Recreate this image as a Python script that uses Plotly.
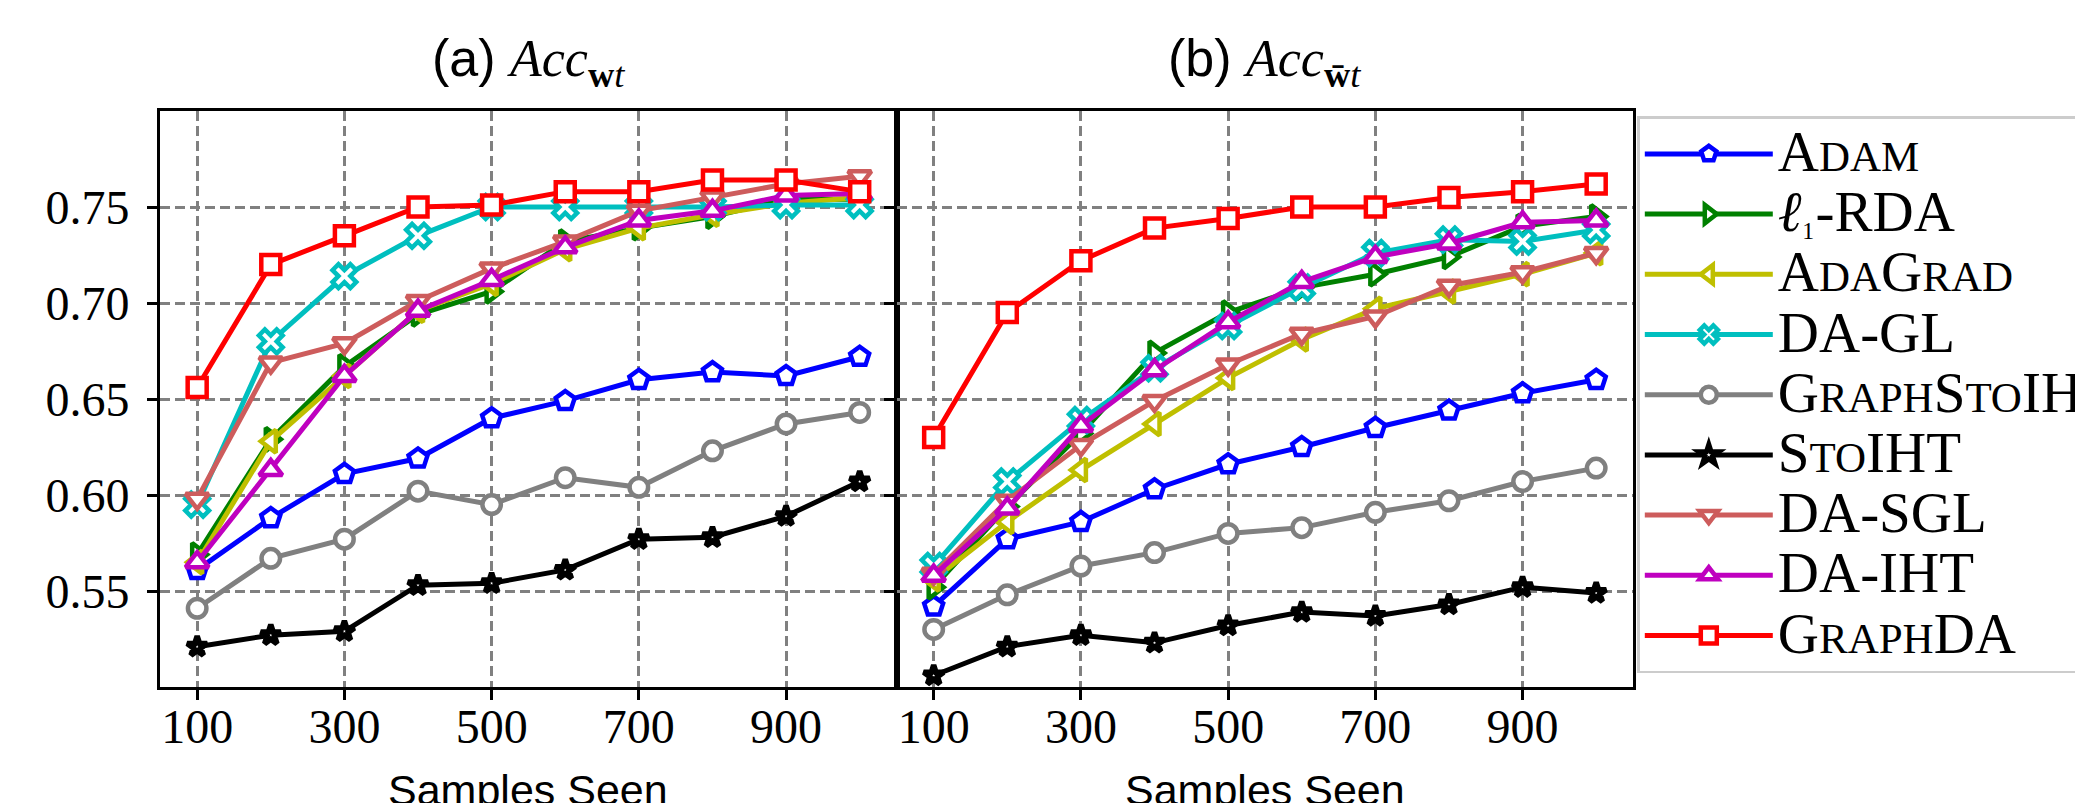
import plotly.graph_objects as go

# ---------------- data ----------------
samples = [100, 200, 300, 400, 500, 600, 700, 800, 900, 1000]
x_ticks = [100, 300, 500, 700, 900]
y_ticks = [0.55, 0.60, 0.65, 0.70, 0.75]
y_tick_text = ["0.55", "0.60", "0.65", "0.70", "0.75"]

# panel (a) Acc_{w_t}
adam_a        = [0.561, 0.588, 0.611, 0.619, 0.640, 0.649, 0.660, 0.664, 0.662, 0.672]
l1rda_a       = [0.569, 0.629, 0.667, 0.694, 0.706, 0.732, 0.739, 0.745, 0.754, 0.754]
adagrad_a     = [0.565, 0.628, 0.662, 0.696, 0.710, 0.728, 0.739, 0.746, 0.752, 0.755]
dagl_a        = [0.595, 0.680, 0.714, 0.735, 0.750, 0.750, 0.750, 0.750, 0.751, 0.751]
graphstoiht_a = [0.541, 0.567, 0.577, 0.602, 0.595, 0.609, 0.604, 0.623, 0.637, 0.643]
stoiht_a      = [0.521, 0.527, 0.529, 0.553, 0.554, 0.561, 0.577, 0.578, 0.589, 0.607]
dasgl_a       = [0.598, 0.669, 0.679, 0.701, 0.718, 0.732, 0.748, 0.755, 0.762, 0.766]
daiht_a       = [0.565, 0.613, 0.662, 0.696, 0.712, 0.729, 0.743, 0.748, 0.756, 0.757]
graphda_a     = [0.656, 0.720, 0.735, 0.750, 0.751, 0.758, 0.758, 0.764, 0.764, 0.758]

# panel (b) Acc_{w̄_t}
adam_b        = [0.542, 0.577, 0.586, 0.603, 0.616, 0.625, 0.635, 0.644, 0.653, 0.660]
l1rda_b       = [0.552, 0.594, 0.632, 0.674, 0.695, 0.708, 0.715, 0.724, 0.740, 0.745]
adagrad_b     = [0.556, 0.586, 0.613, 0.637, 0.661, 0.681, 0.697, 0.706, 0.715, 0.726]
dagl_b        = [0.563, 0.607, 0.639, 0.666, 0.688, 0.708, 0.726, 0.733, 0.732, 0.738]
graphstoiht_b = [0.530, 0.548, 0.563, 0.570, 0.580, 0.583, 0.591, 0.597, 0.607, 0.614]
stoiht_b      = [0.506, 0.521, 0.527, 0.523, 0.532, 0.539, 0.537, 0.543, 0.552, 0.549]
dasgl_b       = [0.559, 0.597, 0.626, 0.649, 0.668, 0.684, 0.693, 0.709, 0.716, 0.726]
daiht_b       = [0.558, 0.593, 0.636, 0.665, 0.690, 0.711, 0.724, 0.731, 0.742, 0.743]
graphda_b     = [0.630, 0.695, 0.722, 0.739, 0.744, 0.750, 0.750, 0.755, 0.758, 0.762]

BIG = "font-size:57px"
SMALL = "font-size:43px"
def b(s):
    return f'<span style="{BIG}">{s}</span>'
def s(t):
    return f'<span style="{SMALL}">{t}</span>'

legend_labels = [
    b("A") + s("DAM"),
    b("<i>ℓ</i>") + '<span style="font-size:40px">₁</span>' + b("-RDA"),
    b("A") + s("DA") + b("G") + s("RAD"),
    b("DA-GL"),
    b("G") + s("RAPH") + b("S") + s("TO") + b("IHT"),
    b("S") + s("TO") + b("IHT"),
    b("DA-SGL"),
    b("DA-IHT"),
    b("G") + s("RAPH") + b("DA"),
]
colors = ["#0000ff", "#008000", "#bfbf00", "#00bfbf", "#808080",
          "#000000", "#cd5c5c", "#bf00bf", "#ff0000"]
symbols = ["pentagon", "triangle-right", "triangle-left", "x", "circle",
           "star", "triangle-down", "triangle-up", "square"]
sizes = [20, 20, 20, 21, 18.5, 15, 20, 20, 19]
edge_w = [4.5, 4.5, 4.5, 4.5, 4.5, 5.5, 4.5, 4.5, 4.5]

panel_a = [adam_a, l1rda_a, adagrad_a, dagl_a, graphstoiht_a, stoiht_a, dasgl_a, daiht_a, graphda_a]
panel_b = [adam_b, l1rda_b, adagrad_b, dagl_b, graphstoiht_b, stoiht_b, dasgl_b, daiht_b, graphda_b]

fig = go.Figure()
for pi, (panel, xa, ya) in enumerate([(panel_a, "x", "y"), (panel_b, "x2", "y2")]):
    for i, vals in enumerate(panel):
        fig.add_trace(go.Scatter(
            x=samples, y=vals, xaxis=xa, yaxis=ya,
            mode="lines+markers",
            name=legend_labels[i],
            showlegend=(pi == 0),
            line=dict(color=colors[i], width=5),
            marker=dict(symbol=symbols[i], size=sizes[i], color="white",
                        line=dict(color=colors[i], width=edge_w[i])),
        ))

W, H = 2075, 803
L, R, T, B = 160, 2075 - 1632.7, 110.7, 803 - 686.7
PW = W - L - R
PH = H - T - B

tickfont = dict(family="Liberation Serif", size=48, color="black")
axis_common = dict(
    showline=True, linecolor="black", linewidth=2.7, mirror=True,
    ticks="outside", ticklen=10, tickwidth=2.7, tickcolor="black",
    showgrid=True, gridcolor="#808080", gridwidth=2.6, griddash="10px,5px",
    zeroline=False, tickfont=tickfont,
)
fig.update_layout(
    width=W, height=H,
    margin=dict(l=L, r=R, t=T, b=B, autoexpand=False),
    paper_bgcolor="white", plot_bgcolor="white",
    xaxis=dict(domain=[0, 0.5], range=[49.5, 1050], tickvals=x_ticks,
               ticklabelstandoff=-14, **axis_common),
    xaxis2=dict(domain=[0.5, 1], range=[49.5, 1050], tickvals=x_ticks,
                ticklabelstandoff=-14, **axis_common),
    yaxis=dict(domain=[0, 1], range=[0.50, 0.80], tickvals=y_ticks,
               ticktext=y_tick_text, ticklabelstandoff=8, **axis_common),
    yaxis2=dict(domain=[0, 1], range=[0.50, 0.80], tickvals=y_ticks,
                anchor="x2", showticklabels=False, **axis_common),
    legend=dict(
        x=(1637 - L) / PW, y=(686.7 - 116) / PH, xanchor="left", yanchor="top",
        bgcolor="white", bordercolor="#cccccc", borderwidth=2.5,
        font=dict(family="Liberation Serif", size=44, color="black"),
        itemwidth=128, tracegroupgap=0,
    ),
    showlegend=True,
)

def py(px):
    return (686.7 - px) / PH

sans = "Liberation Sans"
serif = "Liberation Serif"
titles = [
    ("(a) ", "<b>w</b><i>t</i>", 0.25),
    ("(b) ", "<b>w̄</b><i>t</i>", 0.75),
]
for lead, sub, cx in titles:
    fig.add_annotation(
        xref="paper", yref="paper", x=cx, y=py(62), xanchor="center", yanchor="middle",
        showarrow=False,
        text=(f'<span style="font-family:{sans}">{lead}</span>'
              f'<i>Acc</i><sub>{sub}</sub>'),
        font=dict(family=serif, size=52, color="black"),
    )
    fig.add_annotation(
        xref="paper", yref="paper", x=cx, y=py(764), xanchor="center", yanchor="top",
        showarrow=False, text="Samples Seen",
        font=dict(family=sans, size=43, color="black"),
    )

fig.write_html("out.html", config={"displayModeBar": False},
               post_script="document.body.style.margin='0px';")
